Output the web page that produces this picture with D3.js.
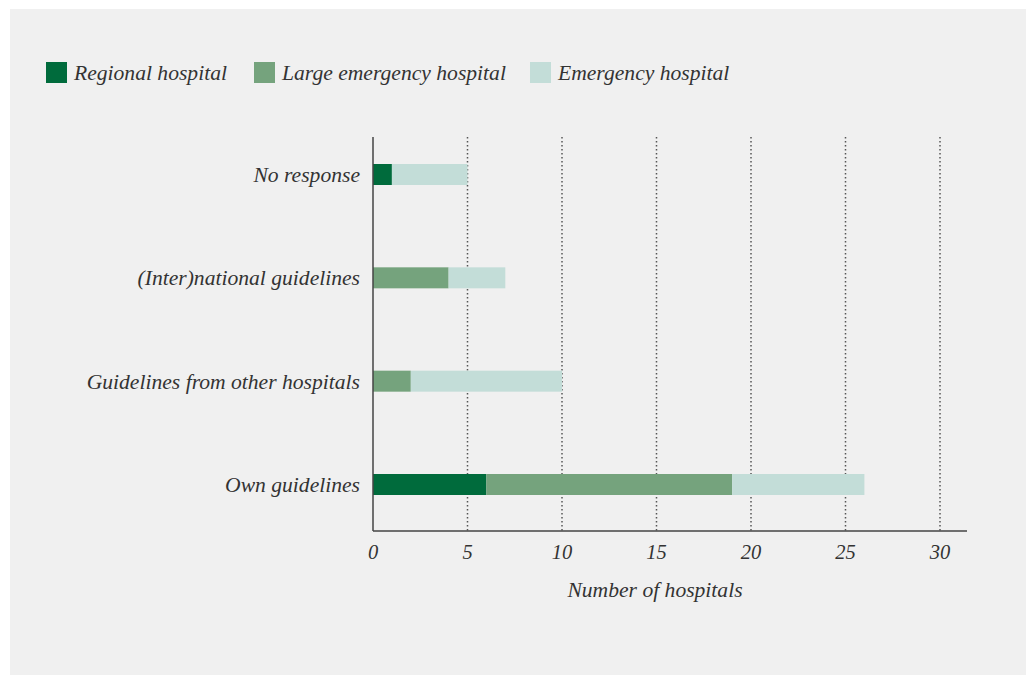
<!DOCTYPE html>
<html>
<head>
<meta charset="utf-8">
<script src="https://cdn.jsdelivr.net/npm/d3@7"></script>
<style>
  body { margin: 0; background: #ffffff; }
  svg text { font-family: 'Liberation Serif', serif; font-style: italic; fill: #333333; }
</style>
</head>
<body>
<div class="d3-content"></div>
<script>
// data
const categories = ['No response', '(Inter)national guidelines', 'Guidelines from other hospitals', 'Own guidelines'];
const seriesNames = ['Regional hospital', 'Large emergency hospital', 'Emergency hospital'];
const regional = [1, 0, 0, 6];
const largeEmergency = [0, 4, 2, 13];
const emergency = [4, 3, 8, 7];
const xTicks = [0, 5, 10, 15, 20, 25, 30];

// dimensions
const width = 1026;
const height = 675;
const plotLeft = 373;
const plotRight = 967;
const plotTop = 137;
const plotBottom = 531;
const barHeight = 21;

// colors
const colors = ['#006b3c', '#75a37d', '#c3ddd8'];
const axisColor = '#444444';

const svg = d3.select('.d3-content')
  .append('svg')
    .attr('width', width)
    .attr('height', height);

// background panel
svg.append('rect')
  .attr('x', 10)
  .attr('y', 9)
  .attr('width', width - 10)
  .attr('height', height - 9)
  .attr('fill', '#f0f0f0');

// scales
const xScale = d3.scaleLinear()
  .domain([0, 30])
  .range([plotLeft, 940]);

const yScale = d3.scalePoint()
  .domain(categories)
  .range([174.5, 484.5]);

// stack
const rows = categories.map((c, i) => ({
  category: c,
  'Regional hospital': regional[i],
  'Large emergency hospital': largeEmergency[i],
  'Emergency hospital': emergency[i]
}));
const stacked = d3.stack().keys(seriesNames)(rows);

// gridlines
svg.append('g')
  .selectAll('line')
  .data(xTicks.filter(d => d > 0))
  .join('line')
    .attr('x1', d => xScale(d))
    .attr('x2', d => xScale(d))
    .attr('y1', plotTop)
    .attr('y2', plotBottom)
    .attr('stroke', '#555555')
    .attr('stroke-width', 1.5)
    .attr('stroke-dasharray', '1.5,2.5');

// bars
svg.append('g')
  .selectAll('g')
  .data(stacked)
  .join('g')
    .attr('fill', (d, i) => colors[i])
  .selectAll('rect')
  .data(d => d)
  .join('rect')
    .attr('x', d => xScale(d[0]))
    .attr('y', d => yScale(d.data.category) - barHeight / 2)
    .attr('width', d => xScale(d[1]) - xScale(d[0]))
    .attr('height', barHeight);

// axes
svg.append('line')
  .attr('x1', plotLeft).attr('x2', plotLeft)
  .attr('y1', plotTop).attr('y2', plotBottom)
  .attr('stroke', axisColor).attr('stroke-width', 1.5);
svg.append('line')
  .attr('x1', plotLeft).attr('x2', plotRight)
  .attr('y1', plotBottom).attr('y2', plotBottom)
  .attr('stroke', axisColor).attr('stroke-width', 1.5);

// x tick labels
svg.append('g')
  .selectAll('text')
  .data(xTicks)
  .join('text')
    .text(d => d)
    .attr('x', d => xScale(d))
    .attr('y', 559)
    .attr('text-anchor', 'middle')
    .attr('font-size', 20.5);

// category labels
svg.append('g')
  .selectAll('text')
  .data(categories)
  .join('text')
    .text(d => d)
    .attr('x', 360)
    .attr('y', d => yScale(d))
    .attr('dy', '0.35em')
    .attr('text-anchor', 'end')
    .attr('font-size', 21.6);

// axis title
svg.append('text')
  .text('Number of hospitals')
  .attr('x', 655)
  .attr('y', 597)
  .attr('text-anchor', 'middle')
  .attr('font-size', 21.6);

// legend
const legendX = [46, 254, 530];
const legend = svg.append('g')
  .selectAll('g')
  .data(seriesNames)
  .join('g')
    .attr('transform', (d, i) => `translate(${legendX[i]}, 62)`);
legend.append('rect')
  .attr('width', 21)
  .attr('height', 21)
  .attr('fill', (d, i) => colors[i]);
legend.append('text')
  .text(d => d)
  .attr('x', 28)
  .attr('y', 10.5)
  .attr('dy', '0.35em')
  .attr('font-size', 21.6);
</script>
</body>
</html>
